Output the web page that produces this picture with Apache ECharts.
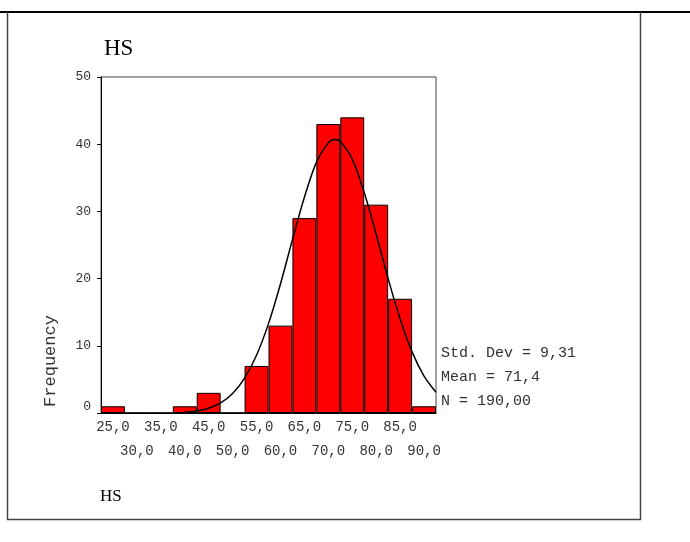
<!DOCTYPE html>
<html>
<head>
<meta charset="utf-8">
<script src="https://cdn.jsdelivr.net/npm/echarts@6/dist/echarts.min.js"></script>
<style>
  html, body { margin: 0; padding: 0; background: #fff; }
  #main { width: 690px; height: 542px; }
</style>
</head>
<body>
<div id="main"></div>
<script>
// histogram bins (centres), counts
var binLabels = ['25,0', '30,0', '35,0', '40,0', '45,0', '50,0', '55,0', '60,0', '65,0', '70,0', '75,0', '80,0', '85,0', '90,0']
var freq = [1, 0, 0, 1, 3, 0, 7, 13, 29, 43, 44, 31, 17, 1]

// normal curve
var curveX = [40, 42.5, 45, 47.5, 50, 52.5, 55, 57.5, 60, 62.5, 65, 67.5, 70, 71.4, 72.5, 75, 77.5, 80, 82.5, 85, 87.5, 90, 92.5]
var curveY = [0.1, 0.3, 0.7, 1.5, 2.9, 5.2, 8.6, 13.3, 19.2, 25.8, 32.1, 37.3, 40.2, 40.7, 40.4, 37.8, 32.8, 26.6, 20.0, 14.0, 9.1, 5.5, 3.1]

var yTicks = [0, 10, 20, 30, 40, 50]
var statLines = ['Std. Dev = 9,31', 'Mean = 71,4', 'N = 190,00']

var mono = '"Liberation Mono", "Courier New", monospace'
var serif = '"Liberation Serif", "Times New Roman", serif'

var chart = echarts.init(document.getElementById('main'))

var graphics = [
    // outer frame
    { type: 'line', shape: { x1: 0, y1: 12, x2: 690, y2: 12 }, style: { stroke: '#000', lineWidth: 2 } },
    { type: 'line', shape: { x1: 7.5, y1: 12, x2: 7.5, y2: 520 }, style: { stroke: '#444', lineWidth: 1.5 } },
    { type: 'line', shape: { x1: 640.5, y1: 12, x2: 640.5, y2: 520 }, style: { stroke: '#444', lineWidth: 1.5 } },
    { type: 'line', shape: { x1: 7, y1: 519.5, x2: 641, y2: 519.5 }, style: { stroke: '#444', lineWidth: 1.5 } },
    {
        type: 'text', x: 50, y: 361, rotation: Math.PI / 2,
        style: { text: 'Frequency', font: '17px ' + mono, fill: '#333', align: 'center', verticalAlign: 'middle' }
    },
    {
        type: 'text', x: 100, y: 497,
        style: { text: 'HS', font: '17px ' + serif, fill: '#000', align: 'left', verticalAlign: 'middle' }
    }
]
statLines.forEach(function (s, i) {
    graphics.push({
        type: 'text', x: 441, y: 353 + i * 24,
        style: { text: s, font: '15px ' + mono, fill: '#333', align: 'left', verticalAlign: 'middle' }
    })
})

chart.setOption({
    animation: false,
    backgroundColor: '#fff',
    title: {
        text: 'HS',
        left: 99,
        top: 32,
        textStyle: { fontFamily: serif, fontSize: 23, fontWeight: 'normal', color: '#000' }
    },
    grid: {
        left: 101, right: 254, top: 77, bottom: 129,
        show: true, borderColor: '#444', borderWidth: 1
    },
    xAxis: [
        {
            type: 'category',
            data: binLabels,
            axisLine: { lineStyle: { color: '#000', width: 1 } },
            axisTick: { alignWithLabel: true, length: 4, lineStyle: { color: '#000' } },
            axisLabel: {
                interval: 0,
                margin: 2,
                fontFamily: mono,
                fontSize: 14,
                color: '#333',
                lineHeight: 24,
                formatter: function (v, i) { return i % 2 ? '\n' + v : v }
            }
        },
        {
            type: 'value',
            min: 22.5,
            max: 92.5,
            show: false
        }
    ],
    yAxis: {
        type: 'value',
        min: yTicks[0],
        max: yTicks[yTicks.length - 1],
        interval: 10,
        axisLine: { show: true, lineStyle: { color: '#000' } },
        axisTick: { show: true, length: 4, lineStyle: { color: '#000' } },
        splitLine: { show: false },
        axisLabel: {
            margin: 10,
            fontFamily: mono,
            fontSize: 13,
            color: '#333',
            formatter: function (v) { return v === 0 ? '{z|0}' : v },
            rich: { z: { fontFamily: mono, fontSize: 13, color: '#333', padding: [0, 0, 12, 0] } }
        }
    },
    series: [
        {
            type: 'bar',
            data: freq,
            barCategoryGap: '0%',
            itemStyle: { color: '#ff0000', borderColor: '#000', borderWidth: 1 }
        },
        {
            type: 'line',
            xAxisIndex: 1,
            data: curveX.map(function (x, i) { return [x, curveY[i]] }),
            smooth: 0.3,
            symbol: 'none',
            lineStyle: { color: '#000', width: 1.5 }
        }
    ],
    graphic: graphics
})
</script>
</body>
</html>
